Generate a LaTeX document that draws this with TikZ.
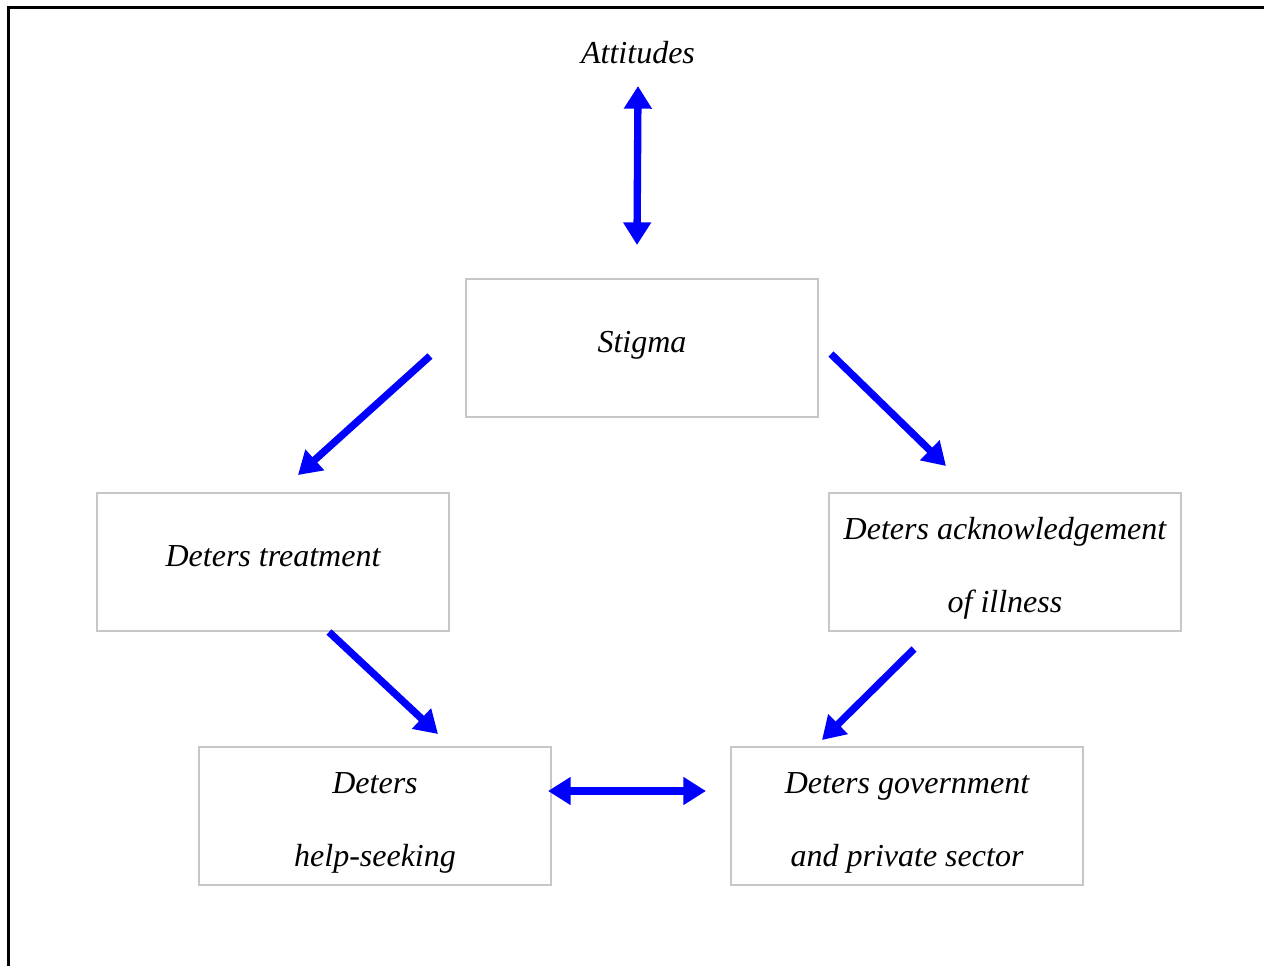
\documentclass[tikz,border=0pt]{standalone}
\usepackage{fontspec}
\setmainfont{Liberation Serif}
\usepackage{tikz}
\usetikzlibrary{arrows.meta}
\tikzstyle{box} = [draw=black!22,line width=1.5pt,minimum width=264pt,minimum height=104pt,align=center,text height=81pt,font=\fontsize{24}{55}\selectfont\itshape]
\tikzstyle{onebox} = [box,text height=17pt,text depth=11pt]
\tikzstyle{arrow} = [draw=blue,line width=5.5pt,-{Triangle[width=20pt,length=17pt]}]
\tikzstyle{twoway} = [draw=blue,line width=5.5pt,{Triangle[width=20pt,length=17pt]}-{Triangle[width=20pt,length=17pt]}]

\begin{document}
\begin{tikzpicture}[x=0.75pt,y=-0.75pt]
\useasboundingbox (0,0) rectangle (1264,965);
\draw[line width=1.6pt] (8.5,975) -- (8.5,7.5) -- (1275,7.5);

\node[font=\fontsize{24}{28}\selectfont\itshape] (att) at (638,53) {Attitudes};
\node[onebox] (stigma) at (642,348) {Stigma};
\node[onebox] (treat) at (273,562) {Deters treatment};
\node[box] (ack) at (1005,562) {Deters acknowledgement\\of illness};
\node[box] (help) at (375,816) {Deters\\help-seeking};
\node[box] (gov) at (907,816) {Deters government\\and private sector};

% arrow ends
\coordinate (v1) at (638,86);
\coordinate (v2) at (637,245);
\coordinate (h1) at (548,791);
\coordinate (h2) at (706,791);
\coordinate (sl) at (430,356);
\coordinate (tl) at (298,475);
\coordinate (sr) at (831,354);
\coordinate (ar) at (946,466);
\coordinate (tb) at (329,632);
\coordinate (hb) at (438,734);
\coordinate (ab) at (914,649);
\coordinate (gb) at (822,740);

\draw[twoway] (v1) -- (v2);
\draw[twoway] (h1) -- (h2);
\draw[arrow] (sl) -- (tl);
\draw[arrow] (sr) -- (ar);
\draw[arrow] (tb) -- (hb);
\draw[arrow] (ab) -- (gb);

\end{tikzpicture}
\end{document}
